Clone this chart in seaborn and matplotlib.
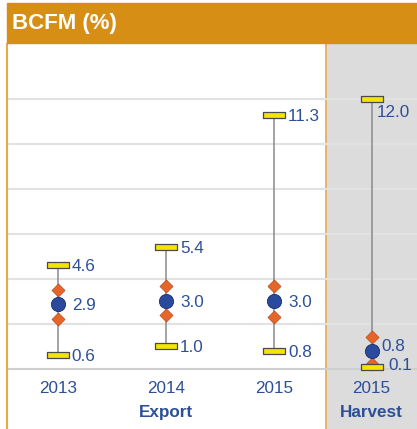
import pandas as pd
import seaborn as sns
import matplotlib.pyplot as plt
from matplotlib.patches import Rectangle

# data
years = ['2013', '2014', '2015', '2015']
groups = ['Export', 'Export', 'Export', 'Harvest']
low = [0.6, 1.0, 0.8, 0.1]
high = [4.6, 5.4, 11.3, 12.0]
mean = [2.9, 3.0, 3.0, 0.8]
q_low = [2.2, 2.4, 2.3, 0.2]
q_high = [3.5, 3.7, 3.7, 1.4]

xpos = [0, 1, 2, 2.9]

df = pd.DataFrame({'x': xpos, 'year': years, 'group': groups, 'low': low,
                   'high': high, 'mean': mean, 'q_low': q_low, 'q_high': q_high})

sns.set_style('white')
plt.rcParams['font.family'] = ['Liberation Sans', 'DejaVu Sans']

blue_txt = '#2c4f98'
fs = 12.3
fig = plt.figure(figsize=(4.17, 4.29), dpi=100)
ax = fig.add_axes([7 / 417, 0, 1 - 7 / 417, (429 - 44) / 429])

# title bar
fig.patches.append(Rectangle((7 / 417, (429 - 43) / 429), 1, 40 / 429,
                             transform=fig.transFigure, color='#d78e15', zorder=0))
fig.text(12 / 417, (429 - 23) / 429, 'BCFM (%)', color='white', fontsize=16,
         fontweight='bold', va='center', ha='left')

ax.set_xlim(-0.47, 3.32)
ax.set_ylim(-2.67, 14.44)

# harvest shading
ax.axvspan(2.48, 3.32, color='#dcdcdc', zorder=0)
ax.axvline(2.48, color='#e8a94a', lw=1.2, zorder=1)

for g in range(0, 14, 2):
    ax.axhline(g, color='#e2e2e2' if g else '#cfcfcf', lw=1.5, zorder=1)

# whiskers
ax.vlines(df['x'], df['low'], df['high'], color='#8a8a8a', lw=1.1, zorder=2)

# quartile diamonds
qd = pd.concat([df[['x', 'q_low']].rename(columns={'q_low': 'v'}),
                df[['x', 'q_high']].rename(columns={'q_high': 'v'})])
sns.scatterplot(data=qd, x='x', y='v', marker='D', s=44, color='#e8652a',
                edgecolor='#b04a1a', linewidth=0.5, ax=ax, zorder=3)

# min / max caps
bar = [(-4, -1), (4, -1), (4, 1), (-4, 1), (-4, -1)]
cd = pd.concat([df[['x', 'low']].rename(columns={'low': 'v'}),
                df[['x', 'high']].rename(columns={'high': 'v'})])
sns.scatterplot(data=cd, x='x', y='v', marker=bar, s=240, color='#f2e600',
                edgecolor='#4a4a4a', linewidth=0.9, ax=ax, zorder=4)

# means
sns.scatterplot(data=df, x='x', y='mean', marker='o', s=105, color='#2a4a9e',
                edgecolor='#1c2f66', linewidth=0.6, ax=ax, zorder=5)

# value labels
for i, r in df.iterrows():
    if r['group'] == 'Harvest':
        offs = {'high': (4, -10), 'mean': (7, 3), 'low': (12, 1)}
    else:
        offs = {'high': (10, -1), 'mean': (10, -1), 'low': (10, -1)}
    for k in ['high', 'mean', 'low']:
        ax.annotate(f"{r[k]:.1f}", (r['x'], r[k]), xytext=offs[k],
                    textcoords='offset points', color=blue_txt, fontsize=fs,
                    va='center', ha='left', zorder=6)
    ax.text(r['x'], -0.87, r['year'], color=blue_txt, fontsize=fs,
            ha='center', va='center')

ax.text(1, -1.93, 'Export', color=blue_txt, fontsize=fs, fontweight='bold',
        ha='center', va='center')
ax.text(2.9, -1.93, 'Harvest', color=blue_txt, fontsize=fs, fontweight='bold',
        ha='center', va='center')

ax.set_xticks([])
ax.set_yticks([])
ax.set_xlabel('')
ax.set_ylabel('')
for s in ['top', 'right', 'bottom']:
    ax.spines[s].set_visible(False)
ax.spines['left'].set_color('#e8a94a')
ax.spines['left'].set_linewidth(1.5)

fig.savefig('out.png', dpi=100)
